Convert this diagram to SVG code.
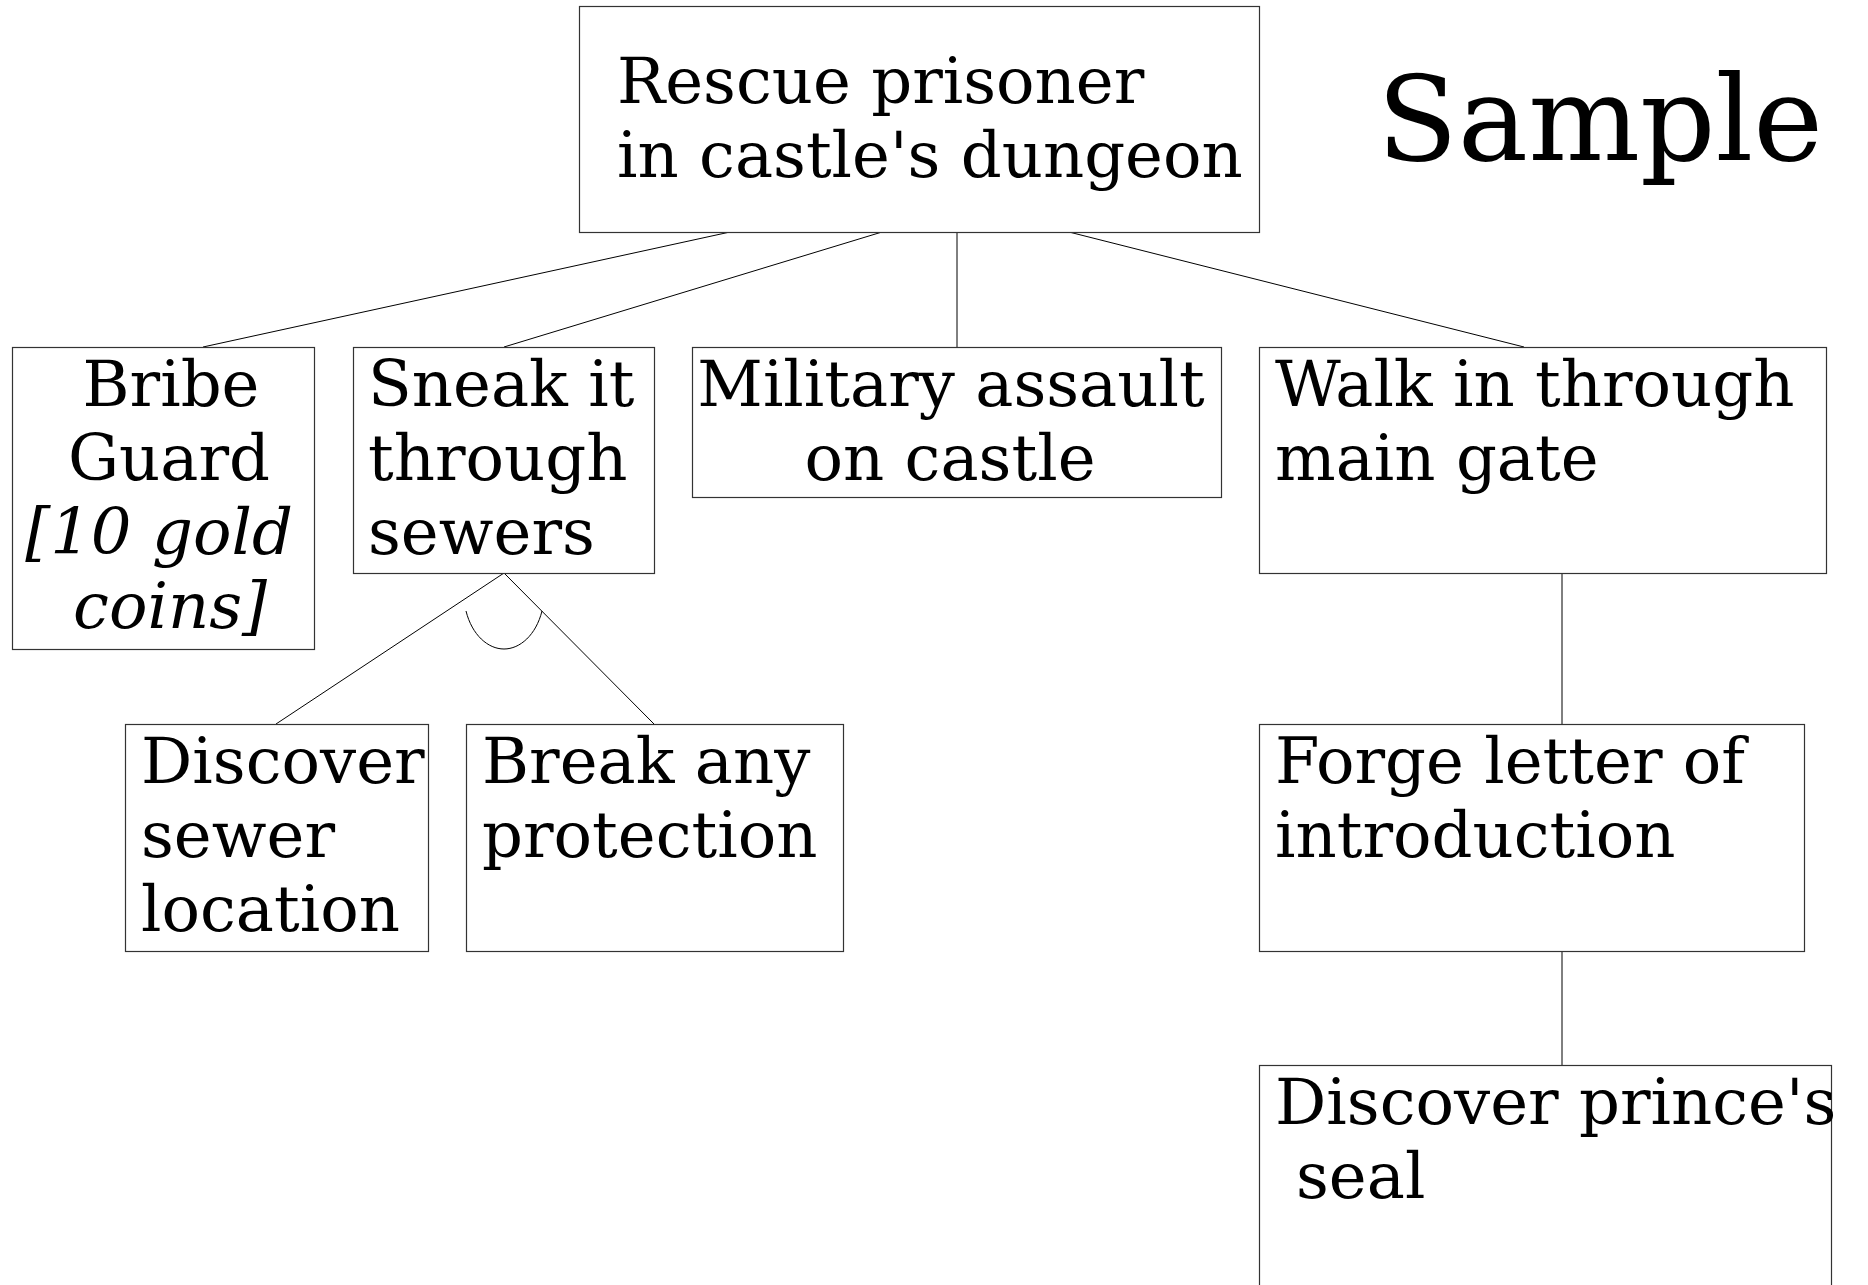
<svg xmlns="http://www.w3.org/2000/svg" width="1868" height="1285" viewBox="0 0 1868 1285">
<style>
.box{fill:#fff;stroke:#333;stroke-width:1.2}
.t{font-family:"DejaVu Serif",serif;font-size:64px;fill:#000}
.it{font-style:italic}
.c{text-anchor:middle}
.ln{fill:none;stroke:#000;stroke-width:1}
</style>
<rect width="1868" height="1285" fill="#fff"/>
<g id="connectors">
<line class="ln" x1="730" y1="232" x2="203" y2="347"/>
<line class="ln" x1="882" y1="232" x2="504" y2="347"/>
<line class="ln" x1="957" y1="232" x2="957" y2="347"/>
<line class="ln" x1="1069" y1="232" x2="1524" y2="347"/>
<line class="ln" x1="504" y1="573" x2="276" y2="724"/>
<line class="ln" x1="504" y1="573" x2="654" y2="724"/>
<path class="ln" d="M466,611 C472,635 488,649 504,649 C520,649 536,635 542,611"/>
<line class="ln" x1="1562" y1="573" x2="1562" y2="724"/>
<line class="ln" x1="1562" y1="951" x2="1562" y2="1065"/>
</g>
<g id="root">
<rect class="box" x="579.5" y="6.5" width="680" height="226"/>
<text class="t" x="617" y="103">Rescue prisoner</text>
<text class="t" x="617" y="177">in castle's dungeon</text>
</g>
<g id="sample">
<text class="t" x="1377" y="160" style="font-size:118px">Sample</text>
</g>
<g id="bribe">
<rect class="box" x="12.5" y="347.5" width="302" height="302"/>
<text class="t c" x="171" y="406">Bribe</text>
<text class="t c" x="169" y="480">Guard</text>
<text class="t c it" x="159" y="554">[10 gold</text>
<text class="t c it" x="170" y="628">coins]</text>
</g>
<g id="sneak">
<rect class="box" x="353.5" y="347.5" width="301" height="226"/>
<text class="t" x="368" y="406">Sneak it</text>
<text class="t" x="368" y="480">through</text>
<text class="t" x="368" y="554">sewers</text>
</g>
<g id="military">
<rect class="box" x="692.5" y="347.5" width="529" height="150"/>
<text class="t c" x="951" y="406">Military assault</text>
<text class="t c" x="950" y="480">on castle</text>
</g>
<g id="walk">
<rect class="box" x="1259.5" y="347.5" width="567" height="226"/>
<text class="t" x="1275" y="406">Walk in through</text>
<text class="t" x="1275" y="480">main gate</text>
</g>
<g id="discover-sewer">
<rect class="box" x="125.5" y="724.5" width="303" height="227"/>
<text class="t" x="141" y="783">Discover</text>
<text class="t" x="141" y="857">sewer</text>
<text class="t" x="141" y="931">location</text>
</g>
<g id="break">
<rect class="box" x="466.5" y="724.5" width="377" height="227"/>
<text class="t" x="482" y="783">Break any</text>
<text class="t" x="482" y="857">protection</text>
</g>
<g id="forge">
<rect class="box" x="1259.5" y="724.5" width="545" height="227"/>
<text class="t" x="1275" y="783">Forge letter of</text>
<text class="t" x="1275" y="857">introduction</text>
</g>
<g id="seal">
<rect class="box" x="1259.5" y="1065.5" width="572" height="240"/>
<text class="t" x="1275" y="1124">Discover prince's</text>
<text class="t" x="1296" y="1198">seal</text>
</g>
</svg>
